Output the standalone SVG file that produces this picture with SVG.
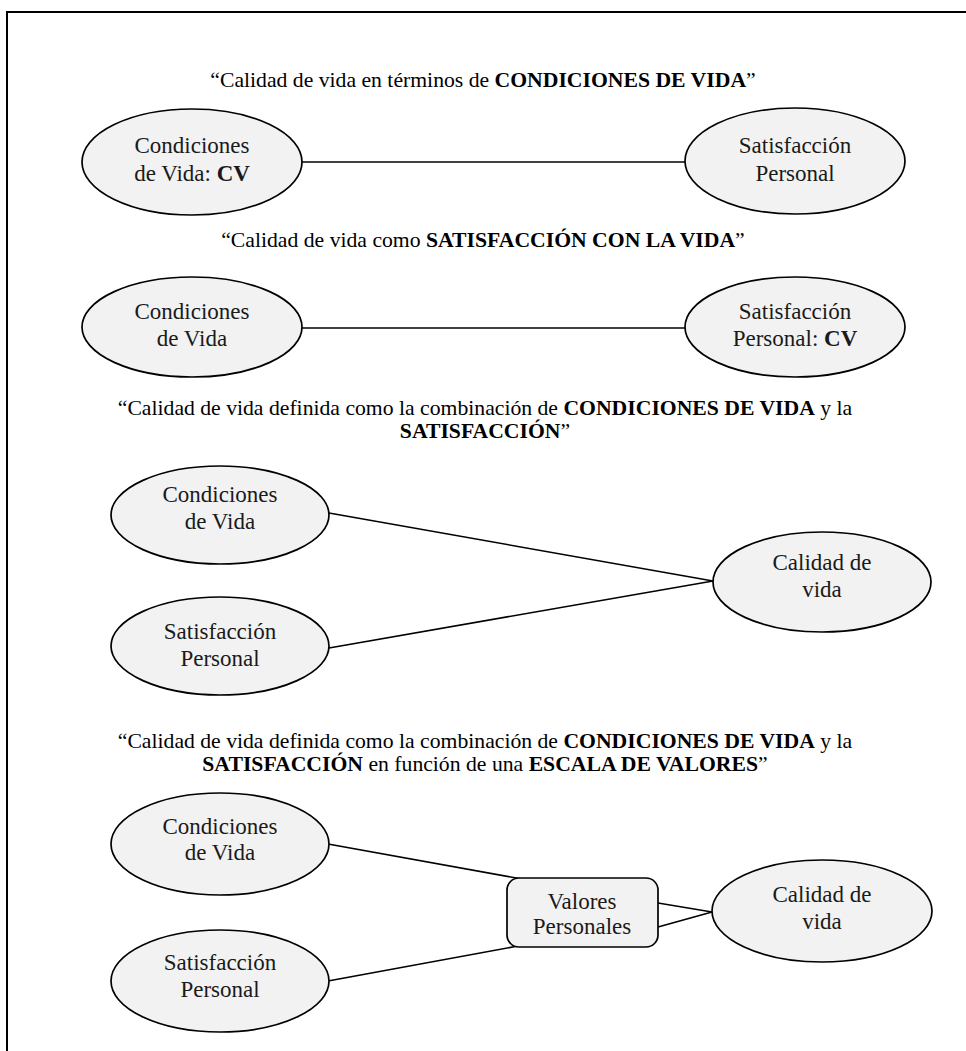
<svg xmlns="http://www.w3.org/2000/svg" width="966" height="1051" viewBox="0 0 966 1051">
<style>
.frame{fill:none;stroke:#000;stroke-width:2}
.node{fill:#f2f2f2;stroke:#000;stroke-width:1.7}
.edge{stroke:#000;stroke-width:1.6;fill:none}
.t{font-family:'Liberation Serif','Tinos','DejaVu Serif',serif;font-size:23px;fill:#1a1a1a;text-anchor:middle}
.h{font-family:'Liberation Serif','Tinos','DejaVu Serif',serif;font-size:21.7px;fill:#000;text-anchor:middle}
.b{font-weight:bold}
</style>
<rect class="frame" x="7" y="12" width="1000" height="1060"/>
<g id="titles">
<text class="h" x="483" y="87">“Calidad de vida en términos de <tspan class="b">CONDICIONES DE VIDA</tspan>”</text>
<text class="h" x="483" y="247">“Calidad de vida como <tspan class="b">SATISFACCIÓN CON LA VIDA</tspan>”</text>
<text class="h" x="485" y="415">“Calidad de vida definida como la combinación de <tspan class="b">CONDICIONES DE VIDA</tspan> y la</text>
<text class="h" x="485" y="438"><tspan class="b">SATISFACCIÓN</tspan>”</text>
<text class="h" x="485" y="748">“Calidad de vida definida como la combinación de <tspan class="b">CONDICIONES DE VIDA</tspan> y la</text>
<text class="h" x="485" y="771"><tspan class="b">SATISFACCIÓN</tspan> en función de una <tspan class="b">ESCALA DE VALORES</tspan>”</text>
</g>
<g id="connectors">
<line class="edge" x1="302" y1="162" x2="685" y2="162"/>
<line class="edge" x1="302" y1="328" x2="685" y2="328"/>
<line class="edge" x1="329" y1="513" x2="713" y2="581"/>
<line class="edge" x1="329" y1="648" x2="713" y2="581"/>
<line class="edge" x1="328" y1="844" x2="522" y2="879"/>
<line class="edge" x1="328" y1="981" x2="518" y2="946"/>
<line class="edge" x1="658" y1="903" x2="712" y2="912"/>
<line class="edge" x1="658" y1="927" x2="712" y2="912"/>
</g>
<g id="s1-cv">
<ellipse class="node" cx="192" cy="162" rx="110" ry="53"/>
<text class="t" x="192" y="153">Condiciones</text>
<text class="t" x="192" y="181">de Vida: <tspan class="b">CV</tspan></text>
</g>
<g id="s1-sp">
<ellipse class="node" cx="795" cy="161" rx="110" ry="53"/>
<text class="t" x="795" y="153">Satisfacción</text>
<text class="t" x="795" y="181">Personal</text>
</g>
<g id="s2-cv">
<ellipse class="node" cx="192" cy="327" rx="110" ry="50"/>
<text class="t" x="192" y="319">Condiciones</text>
<text class="t" x="192" y="346">de Vida</text>
</g>
<g id="s2-sp">
<ellipse class="node" cx="795" cy="327" rx="110" ry="50"/>
<text class="t" x="795" y="319">Satisfacción</text>
<text class="t" x="795" y="346">Personal: <tspan class="b">CV</tspan></text>
</g>
<g id="s3-cv">
<ellipse class="node" cx="220" cy="515" rx="109" ry="49"/>
<text class="t" x="220" y="502">Condiciones</text>
<text class="t" x="220" y="529">de Vida</text>
</g>
<g id="s3-sp">
<ellipse class="node" cx="220" cy="646" rx="109" ry="49"/>
<text class="t" x="220" y="639">Satisfacción</text>
<text class="t" x="220" y="666">Personal</text>
</g>
<g id="s3-cal">
<ellipse class="node" cx="822" cy="582" rx="109" ry="50"/>
<text class="t" x="822" y="570">Calidad de</text>
<text class="t" x="822" y="597">vida</text>
</g>
<g id="s4-cv">
<ellipse class="node" cx="220" cy="844" rx="109" ry="51"/>
<text class="t" x="220" y="834">Condiciones</text>
<text class="t" x="220" y="860">de Vida</text>
</g>
<g id="s4-sp">
<ellipse class="node" cx="220" cy="981" rx="109" ry="51"/>
<text class="t" x="220" y="970">Satisfacción</text>
<text class="t" x="220" y="997">Personal</text>
</g>
<g id="s4-val">
<rect class="node" x="507" y="878" width="151" height="69" rx="12"/>
<text class="t" x="582" y="909">Valores</text>
<text class="t" x="582" y="934">Personales</text>
</g>
<g id="s4-cal">
<ellipse class="node" cx="822" cy="911" rx="110" ry="51"/>
<text class="t" x="822" y="902">Calidad de</text>
<text class="t" x="822" y="929">vida</text>
</g>
</svg>
